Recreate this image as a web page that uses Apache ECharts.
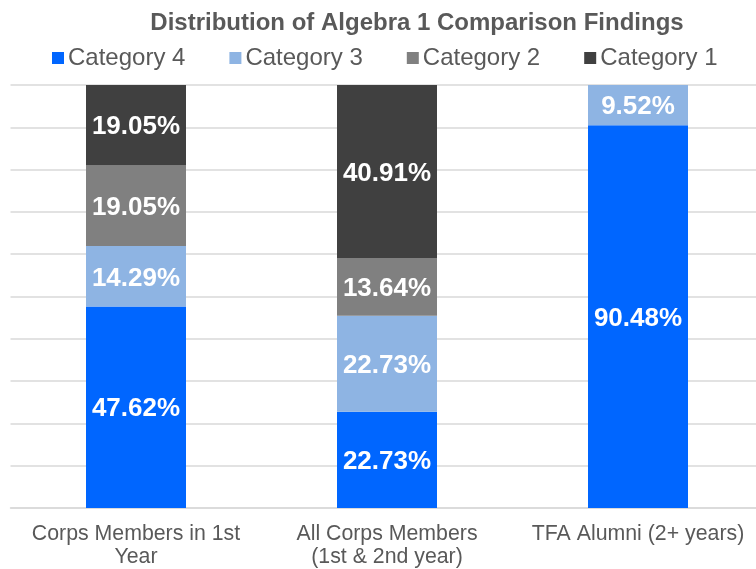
<!DOCTYPE html>
<html><head><meta charset="utf-8">
<script src="https://cdn.jsdelivr.net/npm/echarts@6/dist/echarts.min.js"></script>
<style>html,body{margin:0;padding:0;background:#fff}#c{width:756px;height:569px}</style>
</head><body><div id="c"></div>
<script>
const categories = ['Corps Members in 1st\nYear', 'All Corps Members\n(1st & 2nd year)', 'TFA Alumni (2+ years)'];
const seriesNames = ['Category 4', 'Category 3', 'Category 2', 'Category 1'];
const cat4 = [47.62, 22.73, 90.48];
const cat3 = [14.29, 22.73, 9.52];
const cat2 = [19.05, 13.64, 0];
const cat1 = [19.05, 40.91, 0];
const colors = ['#0066FF', '#8EB4E3', '#808080', '#404040'];
const values = [cat4, cat3, cat2, cat1];
const FONT = '"Liberation Sans", Arial, sans-serif';

const chart = echarts.init(document.getElementById('c'));
chart.setOption({
  animation: false,
  title: {
    text: 'Distribution of Algebra 1 Comparison Findings',
    left: 412, top: 6, textAlign: 'center',
    textStyle: { fontFamily: FONT, fontSize: 24, fontWeight: 'bold', color: '#595959' }
  },
  legend: {
    data: seriesNames, left: 47, top: 41,
    itemWidth: 12, itemHeight: 12, itemGap: 44, icon: 'rect',
    textStyle: { fontFamily: FONT, fontSize: 24, color: '#595959', padding: [0, 0, 0, -1] }
  },
  grid: { left: 10.5, width: 753, top: 85, bottom: 61, outerBoundsMode: 'none', containLabel: false },
  xAxis: {
    type: 'category', data: categories,
    axisLine: { lineStyle: { color: '#d9d9d9', width: 1.5 } },
    axisTick: { show: false },
    axisLabel: { fontFamily: FONT, fontSize: 21.3, color: '#595959', margin: 15, lineHeight: 23, interval: 0 }
  },
  yAxis: {
    type: 'value', min: 0, max: 100, interval: 10,
    axisLabel: { show: false }, axisLine: { show: false }, axisTick: { show: false },
    splitLine: { lineStyle: { color: '#d9d9d9', width: 1.5 } }
  },
  series: seriesNames.map((n, i) => ({
    name: n, type: 'bar', stack: 'all', barWidth: 100,
    itemStyle: { color: colors[i] },
    data: values[i],
    label: {
      show: true, position: 'inside', color: '#fff',
      fontFamily: FONT, fontSize: 26, fontWeight: 'bold', offset: [0, 2],
      formatter: p => p.value > 0 ? p.value.toFixed(2) + '%' : ''
    }
  }))
});
</script></body></html>
